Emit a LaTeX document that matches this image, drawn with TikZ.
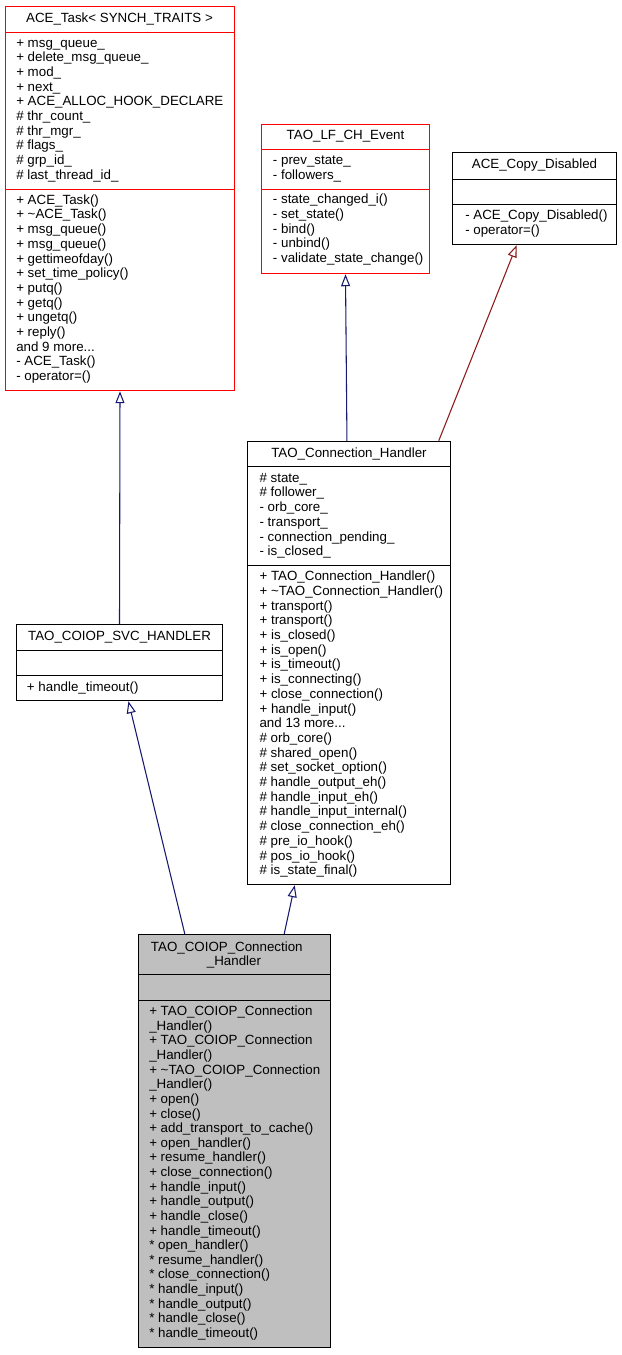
\documentclass[tikz,border=0pt]{standalone}
\usepackage{fontspec}
\setmainfont{Liberation Sans}
\usetikzlibrary{arrows.meta,fit,calc}
\definecolor{inhblue}{HTML}{191970}
\definecolor{inhred}{HTML}{8B1A1A}
\definecolor{clsgray}{HTML}{BFBFBF}
\newcommand\mydotsx{...}
\tikzset{
  every node/.style={font=\fontsize{10}{11}\selectfont, inner sep=0pt},
  lbl/.style={anchor=base west},
  ttl/.style={anchor=base},
  classbox/.style={draw=black, line width=1.1pt, inner sep=0pt},
  redbox/.style={draw=red, line width=1.1pt, inner sep=0pt},
  sepline/.style={line width=1.1pt},
  inh/.style={draw=inhblue, line width=0.8pt, -{Triangle[open, length=9pt, width=6.75pt, fill=white]}},
  inhpriv/.style={draw=inhred, line width=0.8pt, -{Triangle[open, length=9pt, width=6.75pt, fill=white]}}
}
\begin{document}
\begin{tikzpicture}[x=0.75pt, y=-0.75pt]
\useasboundingbox (0,0) rectangle (621,1355);

% ---------- ACE_Task ----------
\node[redbox, fit={(5.5,6.5) (234.5,390.5)}] (task) {};
\draw[sepline, red] (5.5,32.5) -- (234.5,32.5);
\draw[sepline, red] (5.5,189.5) -- (234.5,189.5);
\node[ttl] (task-t) at (119.5,23) {ACE\_Task< SYNCH\_TRAITS >};
\foreach \t [count=\i from 0] in {{+ msg\_queue\_},{+ delete\_msg\_queue\_},{+ mod\_},{+ next\_},{+ ACE\_ALLOC\_HOOK\_DECLARE},{\# thr\_count\_},{\# thr\_mgr\_},{\# flags\_},{\# grp\_id\_},{\# last\_thread\_id\_}}
  \node[lbl] (task-a\i) at (16,{47.3+\i*14.65}) {\t};
\foreach \t [count=\i from 0] in {{+ ACE\_Task()},{+ \textasciitilde ACE\_Task()},{+ msg\_queue()},{+ msg\_queue()},{+ gettimeofday()},{+ set\_time\_policy()},{+ putq()},{+ getq()},{+ ungetq()},{+ reply()},{and 9 more\mydotsx},{- ACE\_Task()},{- operator=()}}
  \node[lbl] (task-m\i) at (16,{204.3+\i*14.69}) {\t};

% ---------- TAO_LF_CH_Event ----------
\node[redbox, fit={(261.5,124.5) (429.5,273.5)}] (lf) {};
\draw[sepline, red] (261.5,149.5) -- (429.5,149.5);
\draw[sepline, red] (261.5,189.5) -- (429.5,189.5);
\node[ttl] (lf-t) at (345.5,139.5) {TAO\_LF\_CH\_Event};
\foreach \t [count=\i from 0] in {{- prev\_state\_},{- followers\_}}
  \node[lbl] (lf-a\i) at (272.7,{165+\i*14.65}) {\t};
\foreach \t [count=\i from 0] in {{- state\_changed\_i()},{- set\_state()},{- bind()},{- unbind()},{- validate\_state\_change()}}
  \node[lbl] (lf-m\i) at (272.7,{204+\i*14.65}) {\t};

% ---------- ACE_Copy_Disabled ----------
\node[classbox, fit={(452.5,152.5) (616.5,244.5)}] (copy) {};
\draw[sepline] (452.5,179.5) -- (616.5,179.5);
\draw[sepline] (452.5,204.5) -- (616.5,204.5);
\node[ttl] (copy-t) at (534.5,168.5) {ACE\_Copy\_Disabled};
\foreach \t [count=\i from 0] in {{- ACE\_Copy\_Disabled()},{- operator=()}}
  \node[lbl] (copy-m\i) at (465,{220+\i*14.65}) {\t};

% ---------- TAO_Connection_Handler ----------
\node[classbox, fit={(247.5,441.5) (450.5,884.5)}] (conn) {};
\draw[sepline] (247.5,466.5) -- (450.5,466.5);
\draw[sepline] (247.5,565.5) -- (450.5,565.5);
\node[ttl] (conn-t) at (349,457.2) {TAO\_Connection\_Handler};
\foreach \t [count=\i from 0] in {{\# state\_},{\# follower\_},{- orb\_core\_},{- transport\_},{- connection\_pending\_},{- is\_closed\_}}
  \node[lbl] (conn-a\i) at (259.3,{482.3+\i*14.68}) {\t};
\foreach \t [count=\i from 0] in {{+ TAO\_Connection\_Handler()},{+ \textasciitilde TAO\_Connection\_Handler()},{+ transport()},{+ transport()},{+ is\_closed()},{+ is\_open()},{+ is\_timeout()},{+ is\_connecting()},{+ close\_connection()},{+ handle\_input()},{and 13 more\mydotsx},{\# orb\_core()},{\# shared\_open()},{\# set\_socket\_option()},{\# handle\_output\_eh()},{\# handle\_input\_eh()},{\# handle\_input\_internal()},{\# close\_connection\_eh()},{\# pre\_io\_hook()},{\# pos\_io\_hook()},{\# is\_state\_final()}}
  \node[lbl] (conn-m\i) at (259.3,{580.7+\i*14.7}) {\t};

% ---------- TAO_COIOP_SVC_HANDLER ----------
\node[classbox, fit={(16.5,624.5) (222.5,700.5)}] (svc) {};
\draw[sepline] (16.5,650.5) -- (222.5,650.5);
\draw[sepline] (16.5,675.5) -- (222.5,675.5);
\node[ttl] (svc-t) at (119.5,640.5) {TAO\_COIOP\_SVC\_HANDLER};
\node[lbl] (svc-m0) at (26.7,691.7) {+ handle\_timeout()};

% ---------- TAO_COIOP_Connection_Handler ----------
\node[classbox, fill=clsgray, fit={(138.5,934.5) (330.5,1347.5)}] (coiop) {};
\draw[sepline] (138.5,974.5) -- (330.5,974.5);
\draw[sepline] (138.5,1000.5) -- (330.5,1000.5);
\node[lbl] (coiop-t1) at (150.7,951) {TAO\_COIOP\_Connection};
\node[ttl] (coiop-t2) at (234,965.7) {\_Handler};
\foreach \t [count=\i from 0] in {{+ TAO\_COIOP\_Connection},{\_Handler()},{+ TAO\_COIOP\_Connection},{\_Handler()},{+ \textasciitilde TAO\_COIOP\_Connection},{\_Handler()},{+ open()},{+ close()},{+ add\_transport\_to\_cache()},{+ open\_handler()},{+ resume\_handler()},{+ close\_connection()},{+ handle\_input()},{+ handle\_output()},{+ handle\_close()},{+ handle\_timeout()},{* open\_handler()},{* resume\_handler()},{* close\_connection()},{* handle\_input()},{* handle\_output()},{* handle\_close()},{* handle\_timeout()}}
  \node[lbl] (coiop-m\i) at (149,{1015.7+\i*14.62}) {\t};

% ---------- inheritance connectors ----------
\draw[inh] (svc.north) -- (task.south);
\draw[inh] ($(conn.north west)!0.49!(conn.north east)$) -- (lf.south);
\draw[inhpriv] ($(conn.north west)!0.939!(conn.north east)$) -- ($(copy.south west)!0.392!(copy.south east)$);
\draw[inh] ($(coiop.north west)!0.243!(coiop.north east)$) -- ($(svc.south west)!0.543!(svc.south east)$);
\draw[inh] ($(coiop.north west)!0.757!(coiop.north east)$) -- ($(conn.south west)!0.2345!(conn.south east)$);
\end{tikzpicture}
\end{document}
